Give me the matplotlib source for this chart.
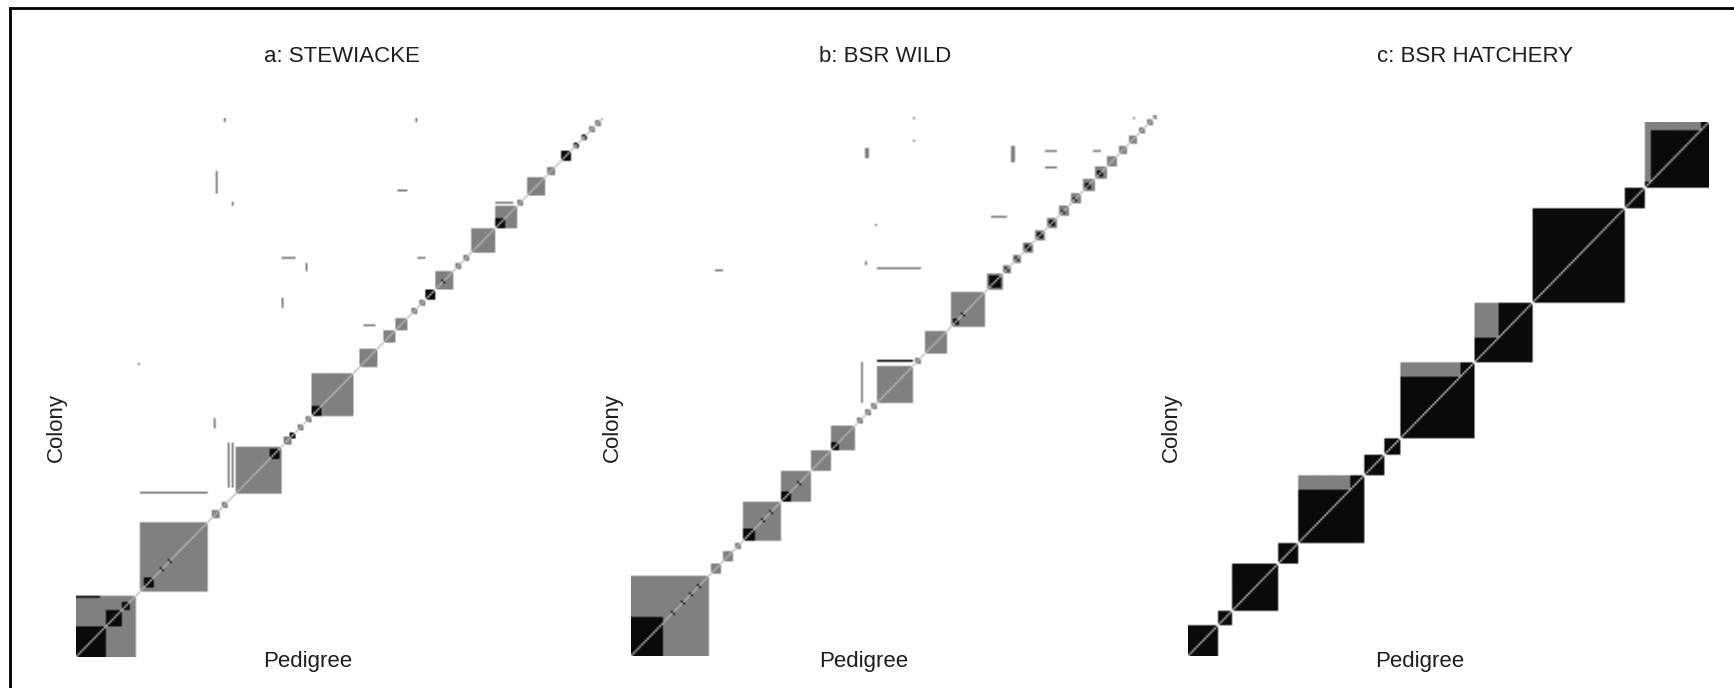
import numpy as np
import matplotlib
matplotlib.use("Agg")
import matplotlib.pyplot as plt
from matplotlib.lines import Line2D

plt.rcParams['font.family'] = ['Liberation Sans', 'DejaVu Sans']

titles = ["a: STEWIACKE", "b: BSR WILD", "c: BSR HATCHERY"]
xlabel = "Pedigree"
ylabel = "Colony"

# number of individuals per panel
n_a, n_b, n_c = 264, 263, 260

# half-sib families (start index, size) -> gray
hs_a = [(0, 30), (32, 34), (68, 4), (73, 3), (80, 23), (104, 4), (111, 3), (115, 3),
        (118, 21), (142, 9), (154, 6), (160, 6), (168, 3), (172, 3), (180, 9), (190, 3),
        (194, 3), (198, 12), (210, 11), (221, 3), (226, 9), (236, 4), (249, 3), (253, 3),
        (257, 3), (260, 3)]
# full-sib families (start index, size) -> black
fs_a = [(0, 15), (15, 8), (23, 4), (34, 5), (42, 2), (46, 2), (97, 5), (107, 3), (118, 5),
        (175, 5), (183, 2), (210, 5), (243, 5), (250, 2), (254, 2)]
# colony-only relationships (row0, row1, col0, col1, level)
ex_a = [(29, 30, 0, 12, 2), (80, 81, 32, 66, 1), (83, 105, 76, 77, 1), (83, 105, 78, 79, 1),
        (262, 264, 74, 75, 1), (262, 264, 170, 171, 1), (227, 238, 70, 71, 1),
        (221, 223, 78, 79, 1), (228, 229, 161, 166, 1), (195, 196, 103, 110, 1),
        (189, 193, 115, 116, 1), (195, 196, 171, 175, 1), (171, 176, 103, 104, 1),
        (143, 144, 31, 32, 1), (162, 163, 144, 150, 1), (112, 117, 69, 70, 1),
        (222, 223, 210, 219, 1)]

hs_b = [(0, 39), (40, 5), (46, 5), (52, 3), (56, 19), (75, 15), (90, 10), (100, 12),
        (113, 3), (117, 3), (120, 3), (123, 18), (142, 3), (147, 11), (160, 17), (178, 8),
        (186, 4), (191, 4), (196, 5), (202, 5), (208, 5), (214, 5), (220, 5), (226, 6),
        (232, 6), (238, 5), (244, 4), (249, 4), (254, 3), (258, 3), (261, 2)]
fs_b = [(0, 16), (20, 2), (25, 2), (29, 2), (33, 2), (56, 6), (65, 2), (69, 2), (75, 5),
        (83, 2), (100, 4), (161, 3), (165, 2), (179, 6), (187, 2), (192, 2), (197, 3),
        (203, 3), (209, 3), (215, 2), (221, 2), (227, 3), (233, 3)]
ex_b = [(16, 19, 0, 16, 2), (187, 188, 42, 46, 1), (242, 247, 117, 119, 1),
        (261, 262, 141, 142, 1), (250, 251, 141, 142, 1), (209, 210, 122, 123, 1),
        (188, 189, 123, 145, 1), (190, 192, 117, 118, 1), (213, 214, 180, 188, 1),
        (240, 248, 190, 192, 1), (245, 246, 207, 213, 1), (237, 238, 207, 213, 1),
        (245, 246, 231, 235, 1), (261, 262, 251, 252, 1), (143, 144, 123, 141, 2),
        (123, 143, 115, 116, 1)]

hs_c = []
fs_c = [(0, 15), (15, 7), (22, 23), (45, 10), (55, 33), (88, 10), (98, 8), (106, 37),
        (143, 29), (172, 46), (218, 10), (228, 32)]
ex_c = [(81, 88, 55, 81, 1), (136, 143, 106, 136, 1), (155, 172, 143, 155, 1),
        (256, 260, 228, 256, 1), (231, 260, 228, 231, 1)]

# white, half-sib gray, full-sib black, self
shade = np.array([1.0, 0.5, 0.04, 0.72])


def build(n, hs, fs, ex):
    M = np.zeros((n, n), int)
    for s, k in hs:
        M[s:s + k, s:s + k] = 1
    for s, k in fs:
        M[s:s + k, s:s + k] = 2
    for r0, r1, c0, c1, v in ex:
        M[r0:r1, c0:c1] = v
    np.fill_diagonal(M, 3)
    return M


mats = [build(n_a, hs_a, fs_a, ex_a), build(n_b, hs_b, fs_b, ex_b), build(n_c, hs_c, fs_c, ex_c)]

W, H = 1734, 688
fig = plt.figure(figsize=(W / 100, H / 100), dpi=100)

boxes = [(76, 603, 118, 657), (631, 1157, 115, 656), (1188, 1709, 122, 656)]
title_x = [342, 885, 1475]
ped_x = [308, 864, 1420]
col_x = [56, 612, 1171]

for i in range(3):
    x0, x1, y0, y1 = boxes[i]
    ax = fig.add_axes([x0 / W, 1 - y1 / H, (x1 - x0) / W, (y1 - y0) / H])
    ax.imshow(shade[mats[i]], cmap='gray', vmin=0, vmax=1, origin='lower',
              interpolation='bilinear', aspect='auto')
    ax.axis('off')
    fig.text(title_x[i] / W, 1 - 62 / H, titles[i], ha='center', va='baseline',
             fontsize=16, color='#1e1e1e')
    fig.text(ped_x[i] / W, 1 - 667 / H, xlabel, ha='center', va='baseline',
             fontsize=16, color='#1e1e1e')
    fig.text(col_x[i] / W, 1 - 428 / H, ylabel, ha='center', va='center', rotation=90,
             fontsize=16, color='#1e1e1e')

# frame lines (top and left)
fig.add_artist(Line2D([10 / W, 1], [1 - 8 / H, 1 - 8 / H], transform=fig.transFigure,
                      color='black', lw=2))
fig.add_artist(Line2D([10 / W, 10 / W], [0, 1 - 8 / H], transform=fig.transFigure,
                      color='black', lw=2))

fig.savefig("out.png", dpi=100)
